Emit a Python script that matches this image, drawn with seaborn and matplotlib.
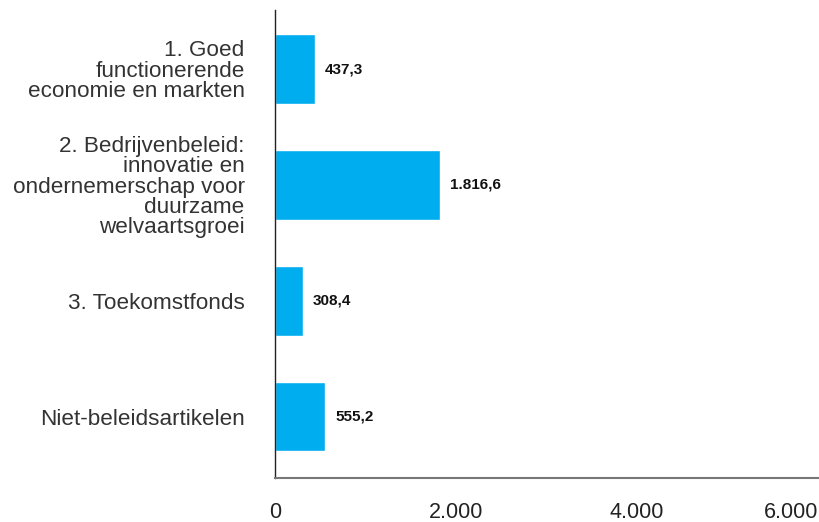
import matplotlib
matplotlib.use("Agg")
import matplotlib.pyplot as plt
import seaborn as sns
import pandas as pd
from matplotlib.ticker import FuncFormatter

# Data
categories = [
    "1. Goed\nfunctionerende\neconomie en markten",
    "2. Bedrijvenbeleid:\ninnovatie en\nondernemerschap voor\nduurzame\nwelvaartsgroei",
    "3. Toekomstfonds",
    "Niet-beleidsartikelen",
]
values = [437.3, 1816.6, 308.4, 555.2]
value_labels = ["437,3", "1.816,6", "308,4", "555,2"]
x_ticks = [0, 2000, 4000, 6000]

df = pd.DataFrame({"categorie": categories, "bedrag": values})

sns.set_style("white")
plt.rcParams["font.family"] = ["Liberation Sans", "DejaVu Sans"]

fig = plt.figure(figsize=(8.19, 5.22), dpi=100)
ax = fig.add_axes([0.336, 0.084, 0.663, 0.897])

sns.barplot(data=df, y="categorie", x="bedrag", color="#00AEEF",
            saturation=1, width=0.6, ax=ax, orient="h")

for i, (v, lab) in enumerate(zip(values, value_labels)):
    ax.text(v + 110, i, lab, va="center", ha="left", fontsize=11,
            fontweight="bold", color="#111111")

ax.set_xlim(0, 6000)
ax.set_ylim(3.53, -0.51)
ax.set_xticks(x_ticks)
ax.xaxis.set_major_formatter(FuncFormatter(lambda x, p: f"{int(x):,}".replace(",", ".")))
ax.set_xlabel("")
ax.set_ylabel("")

ax.tick_params(axis="y", length=0, pad=22, labelsize=16.2, labelcolor="#333333")
ax.tick_params(axis="x", length=8, width=1, color="#555555", pad=9,
               labelsize=15.5, labelcolor="#222222")
for lab in ax.get_yticklabels():
    lab.set_horizontalalignment("right")
    lab.set_linespacing(0.95)
for lab in ax.get_xticklabels():
    if lab.get_text() == "6.000":
        lab.set_horizontalalignment("right")

sns.despine(ax=ax, top=True, right=True)
ax.spines["left"].set_color("#222222")
ax.spines["left"].set_linewidth(1)
ax.spines["bottom"].set_color("#777777")
ax.spines["bottom"].set_linewidth(1.5)

fig.savefig("out.png", dpi=100)
